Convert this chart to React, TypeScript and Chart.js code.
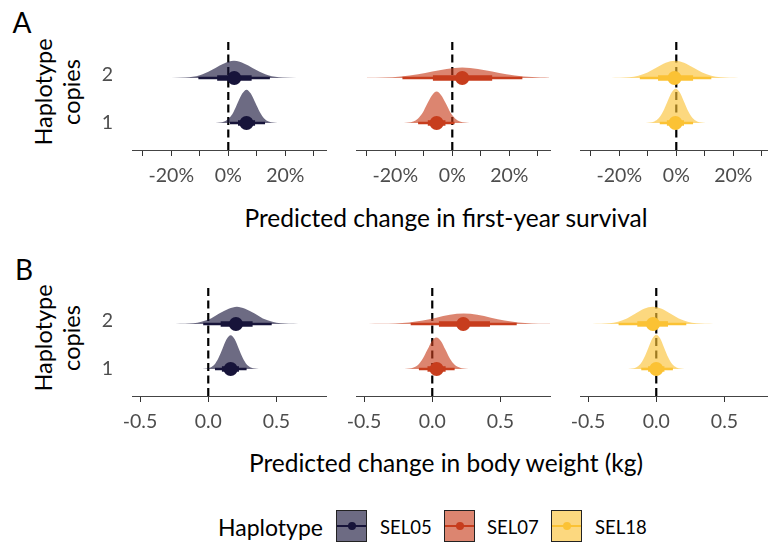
import React, { useEffect, useRef } from "react";
import { Chart, registerables } from "chart.js";

Chart.register(...registerables);

const FONT = "Lato, 'Open Sans', sans-serif";

// ---------- data ----------
const haplotypes = ["SEL05", "SEL07", "SEL18"];
const copyLabels = ["1", "2"];
const lineColors = ["#17143a", "#c73d1d", "#fbc234"];
const slabColors = ["rgba(23,20,58,0.63)", "rgba(199,61,29,0.63)", "rgba(251,194,52,0.63)"];

const survivalTicks = [-30, -20, -10, 0, 10, 20, 30];
const survivalTickLabels = ["", "-20%", "", "0%", "", "20%", ""];
const weightTicks = [-0.5, 0, 0.5];
const weightTickLabels = ["-0.5", "0.0", "0.5"];

const survivalRange = [-33.8, 34.3];
const weightRange = [-0.559, 0.863];
const copiesRange = [0.4, 2.82];

// [haplotype][copies-1]
const survivalMedian = [[6.4, 2.1], [-5.5, 3.5], [-0.3, -0.6]];
const survivalLo66 = [[3.4, -3.9], [-8.6, -6.8], [-3.3, -6.4]];
const survivalHi66 = [[9.4, 8.2], [-2.4, 14.0], [2.7, 5.9]];
const survivalLo95 = [[0.6, -10.5], [-12.0, -17.5], [-5.8, -12.8]];
const survivalHi95 = [[12.9, 14.6], [0.8, 24.6], [5.9, 12.3]];

const weightMedian = [[0.164, 0.203], [0.032, 0.227], [0.0, -0.024]];
const weightLo66 = [[0.1, 0.091], [-0.035, 0.049], [-0.06, -0.139]];
const weightHi66 = [[0.225, 0.325], [0.098, 0.423], [0.06, 0.086]];
const weightLo95 = [[0.049, -0.037], [-0.098, -0.158], [-0.11, -0.276]];
const weightHi95 = [[0.281, 0.465], [0.164, 0.619], [0.122, 0.22]];

// density slabs: [x, height]
const dSurv05c1 = [[-4.5, 0.002], [-2.9, 0.008], [-1.4, 0.032], [0.2, 0.1], [1.8, 0.24], [3.3, 0.449], [4.9, 0.653], [6.4, 0.74], [7.9, 0.653], [9.5, 0.449], [11.1, 0.24], [12.6, 0.1], [14.2, 0.032], [15.7, 0.008], [17.3, 0.002]];
const dSurv05c2 = [[-20, 0.001], [-15, 0.01], [-10, 0.062], [-6, 0.17], [-3, 0.277], [0, 0.361], [2, 0.38], [4, 0.361], [7, 0.277], [10, 0.17], [14, 0.062], [19, 0.01], [24, 0.001]];
const dSurv07c1 = [[-17, 0.0015], [-15.4, 0.008], [-13.7, 0.031], [-12.1, 0.095], [-10.4, 0.227], [-8.8, 0.425], [-7.1, 0.618], [-5.5, 0.7], [-3.9, 0.618], [-2.2, 0.425], [-0.6, 0.227], [1.1, 0.095], [2.7, 0.031], [4.4, 0.008], [6, 0.0015]];
const dSurv07c2 = [[-30, 0.002], [-24, 0.0085], [-18, 0.031], [-12, 0.08], [-7, 0.142], [-2, 0.201], [3.5, 0.23], [9, 0.201], [14, 0.142], [19, 0.08], [25, 0.031], [31, 0.0085], [34, 0.004]];
const dSurv18c1 = [[-10.7, 0.0017], [-9.2, 0.008], [-7.7, 0.033], [-6.2, 0.103], [-4.7, 0.247], [-3.2, 0.461], [-1.7, 0.671], [-0.2, 0.76], [1.3, 0.671], [2.8, 0.461], [4.3, 0.247], [5.8, 0.103], [7.3, 0.033], [8.8, 0.008], [10.3, 0.0017]];
const dSurv18c2 = [[-22.9, 0.001], [-19.7, 0.004], [-16.5, 0.016], [-13.3, 0.051], [-10.1, 0.123], [-6.9, 0.23], [-3.7, 0.335], [-0.5, 0.38], [2.7, 0.335], [5.9, 0.23], [9.1, 0.123], [12.3, 0.051], [15.5, 0.016], [18.7, 0.004], [21.9, 0.001]];

const dWt05c1 = [[-0.043, 0.0017], [-0.013, 0.008], [0.016, 0.033], [0.046, 0.101], [0.075, 0.244], [0.105, 0.455], [0.134, 0.662], [0.164, 0.75], [0.194, 0.662], [0.223, 0.455], [0.253, 0.244], [0.282, 0.101], [0.312, 0.033], [0.341, 0.008], [0.371, 0.0017]];
const dWt05c2 = [[-0.24, 0.001], [-0.17, 0.004], [-0.11, 0.016], [-0.05, 0.051], [0.02, 0.123], [0.08, 0.23], [0.15, 0.335], [0.21, 0.38], [0.27, 0.335], [0.34, 0.23], [0.4, 0.123], [0.47, 0.051], [0.53, 0.016], [0.59, 0.004], [0.66, 0.001]];
const dWt07c1 = [[-0.205, 0.0015], [-0.17, 0.008], [-0.137, 0.031], [-0.103, 0.095], [-0.07, 0.227], [-0.036, 0.425], [-0.003, 0.618], [0.03, 0.7], [0.064, 0.618], [0.097, 0.425], [0.13, 0.227], [0.164, 0.095], [0.2, 0.031], [0.23, 0.008], [0.265, 0.0015]];
const dWt07c2 = [[-0.47, 0.0005], [-0.37, 0.0025], [-0.27, 0.01], [-0.17, 0.031], [-0.07, 0.075], [0.03, 0.14], [0.13, 0.203], [0.23, 0.23], [0.33, 0.203], [0.43, 0.14], [0.53, 0.075], [0.63, 0.031], [0.73, 0.01], [0.83, 0.0025], [0.93, 0.0005]];
const dWt18c1 = [[-0.207, 0.0017], [-0.177, 0.008], [-0.148, 0.033], [-0.118, 0.103], [-0.089, 0.247], [-0.059, 0.461], [-0.03, 0.671], [0, 0.76], [0.03, 0.671], [0.059, 0.461], [0.089, 0.247], [0.118, 0.103], [0.148, 0.033], [0.177, 0.008], [0.207, 0.0017]];
const dWt18c2 = [[-0.47, 0.001], [-0.405, 0.004], [-0.345, 0.016], [-0.28, 0.051], [-0.215, 0.123], [-0.152, 0.23], [-0.09, 0.335], [-0.025, 0.38], [0.04, 0.335], [0.102, 0.23], [0.165, 0.123], [0.23, 0.051], [0.293, 0.016], [0.355, 0.004], [0.42, 0.001]];

const survivalDensities = [[dSurv05c1, dSurv05c2], [dSurv07c1, dSurv07c2], [dSurv18c1, dSurv18c2]];
const weightDensities = [[dWt05c1, dWt05c2], [dWt07c1, dWt07c2], [dWt18c1, dWt18c2]];

// ---------- layout ----------
const PANEL_W = 194;
const PANEL_H = 116;
const AXIS_H = 50;
const PAD = 26;
const panelLefts = [132, 356, 580];
const rowTops = [34, 280];

type Measure = "survival" | "weight";

function Panel({ measure, hap, left, top }: { measure: Measure; hap: number; left: number; top: number }) {
  const ref = useRef<HTMLCanvasElement | null>(null);
  useEffect(() => {
    const isSurv = measure === "survival";
    const ticks = isSurv ? survivalTicks : weightTicks;
    const labels = isSurv ? survivalTickLabels : weightTickLabels;
    const range = isSurv ? survivalRange : weightRange;
    const med = isSurv ? survivalMedian : weightMedian;
    const lo66 = isSurv ? survivalLo66 : weightLo66;
    const hi66 = isSurv ? survivalHi66 : weightHi66;
    const lo95 = isSurv ? survivalLo95 : weightLo95;
    const hi95 = isSurv ? survivalHi95 : weightHi95;
    const dens = isSurv ? survivalDensities : weightDensities;

    const datasets: any[] = [];
    datasets.push({
      data: [{ x: 0, y: copiesRange[0] }, { x: 0, y: copiesRange[1] }],
      borderColor: "#000",
      borderWidth: 2.2,
      borderDash: [8, 4.5],
      pointRadius: 0,
      order: 4,
    });
    for (let c = 0; c < copyLabels.length; c++) {
      const y = c + 1;
      datasets.push({
        data: dens[hap][c].map(([x, h]) => ({ x, y: y + h })),
        fill: { value: y },
        backgroundColor: slabColors[hap],
        borderColor: "rgba(0,0,0,0)",
        borderWidth: 0,
        pointRadius: 0,
        cubicInterpolationMode: "monotone",
        order: 3,
      });
      datasets.push({
        data: [{ x: lo95[hap][c], y }, { x: hi95[hap][c], y }],
        borderColor: lineColors[hap],
        borderWidth: 2.6,
        borderCapStyle: "butt",
        pointRadius: 0,
        order: 2,
      });
      datasets.push({
        data: [{ x: lo66[hap][c], y }, { x: hi66[hap][c], y }],
        borderColor: lineColors[hap],
        borderWidth: 5.5,
        borderCapStyle: "butt",
        pointRadius: 0,
        order: 1,
      });
      datasets.push({
        data: [{ x: med[hap][c], y }],
        showLine: false,
        pointRadius: 7,
        pointBackgroundColor: lineColors[hap],
        pointBorderWidth: 0,
        order: 0,
      });
    }

    const chart = new Chart(ref.current as HTMLCanvasElement, {
      type: "line",
      data: { datasets },
      options: {
        animation: false,
        responsive: false,
        events: [],
        layout: { padding: { left: PAD, right: PAD, top: 0, bottom: 0 } },
        plugins: { legend: { display: false }, tooltip: { enabled: false } },
        scales: {
          x: {
            type: "linear",
            min: range[0],
            max: range[1],
            afterBuildTicks: (s: any) => {
              s.ticks = ticks.map((v) => ({ value: v }));
            },
            afterFit: (s: any) => {
              s.height = AXIS_H;
              s.paddingLeft = 0;
              s.paddingRight = 0;
            },
            ticks: {
              autoSkip: false,
              maxRotation: 0,
              minRotation: 0,
              padding: 8,
              color: "#4d4d4d",
              font: { family: FONT, size: 19.5 },
              callback: (_v: any, i: number) => labels[i],
            },
            grid: { drawOnChartArea: false, drawTicks: true, tickLength: 6, color: "#333", lineWidth: 1 },
            border: { display: true, color: "#444", width: 1 },
          },
          y: { type: "linear", min: copiesRange[0], max: copiesRange[1], display: false },
        },
      } as any,
    });
    return () => chart.destroy();
  }, [measure, hap]);
  const w = PANEL_W + 2 * PAD;
  const h = PANEL_H + AXIS_H;
  return (
    <canvas
      ref={ref}
      width={w}
      height={h}
      style={{ position: "absolute", left: left - PAD, top, width: w, height: h }}
    />
  );
}

function Txt({ x, y, size, color = "#000", children, anchor = "center" }: any) {
  const tx = anchor === "left" ? "0" : anchor === "right" ? "-100%" : "-50%";
  return (
    <div
      style={{
        position: "absolute",
        left: x,
        top: y,
        transform: `translate(${tx}, -50%)`,
        fontFamily: FONT,
        fontSize: size,
        color,
        whiteSpace: "nowrap",
        lineHeight: 1,
      }}
    >
      {children}
    </div>
  );
}

function YTitle({ cx, cy }: { cx: number; cy: number }) {
  return (
    <div
      style={{
        position: "absolute",
        left: cx,
        top: cy,
        transform: "translate(-50%, -50%) rotate(-90deg)",
        fontFamily: FONT,
        fontSize: 23.5,
        lineHeight: "28px",
        textAlign: "center",
        whiteSpace: "nowrap",
        color: "#000",
      }}
    >
      Haplotype
      <br />
      copies
    </div>
  );
}

function LegendKey({ x, hap }: { x: number; hap: number }) {
  return (
    <div
      style={{
        position: "absolute",
        left: x,
        top: 510,
        width: 31,
        height: 32,
        boxSizing: "border-box",
        border: "1.6px solid #222",
        background: slabColors[hap],
      }}
    >
      <div style={{ position: "absolute", left: 0, right: 0, top: 13.5, height: 2.4, background: lineColors[hap] }} />
      <div
        style={{
          position: "absolute",
          left: 10.5,
          top: 10.5,
          width: 8,
          height: 8,
          borderRadius: "50%",
          background: lineColors[hap],
        }}
      />
    </div>
  );
}

export default function App() {
  const rows: Measure[] = ["survival", "weight"];
  return (
    <div
      style={{
        position: "absolute",
        left: 0,
        top: 0,
        width: 768,
        height: 543,
        overflow: "hidden",
        background: "#fff",
      }}
    >
      {rows.map((m, r) =>
        haplotypes.map((_, h) => (
          <Panel key={`${m}-${h}`} measure={m} hap={h} left={panelLefts[h]} top={rowTops[r]} />
        ))
      )}
      <Txt x={22} y={22} size={28}>A</Txt>
      <Txt x={24} y={269} size={28}>B</Txt>
      <YTitle cx={57} cy={92} />
      <YTitle cx={57} cy={338} />
      <Txt x={113} y={74} size={19.5} color="#4d4d4d" anchor="right">{copyLabels[1]}</Txt>
      <Txt x={113} y={122} size={19.5} color="#4d4d4d" anchor="right">{copyLabels[0]}</Txt>
      <Txt x={113} y={320} size={19.5} color="#4d4d4d" anchor="right">{copyLabels[1]}</Txt>
      <Txt x={113} y={368} size={19.5} color="#4d4d4d" anchor="right">{copyLabels[0]}</Txt>
      <Txt x={446} y={218} size={24.5}>Predicted change in first-year survival</Txt>
      <Txt x={446} y={463} size={24.5}>Predicted change in body weight (kg)</Txt>
      <Txt x={218} y={527} size={23} anchor="left">Haplotype</Txt>
      {haplotypes.map((name, h) => (
        <React.Fragment key={name}>
          <LegendKey x={[336, 444, 551][h]} hap={h} />
          <Txt x={[380, 487, 595][h]} y={527} size={18.5} anchor="left">{name}</Txt>
        </React.Fragment>
      ))}
    </div>
  );
}
